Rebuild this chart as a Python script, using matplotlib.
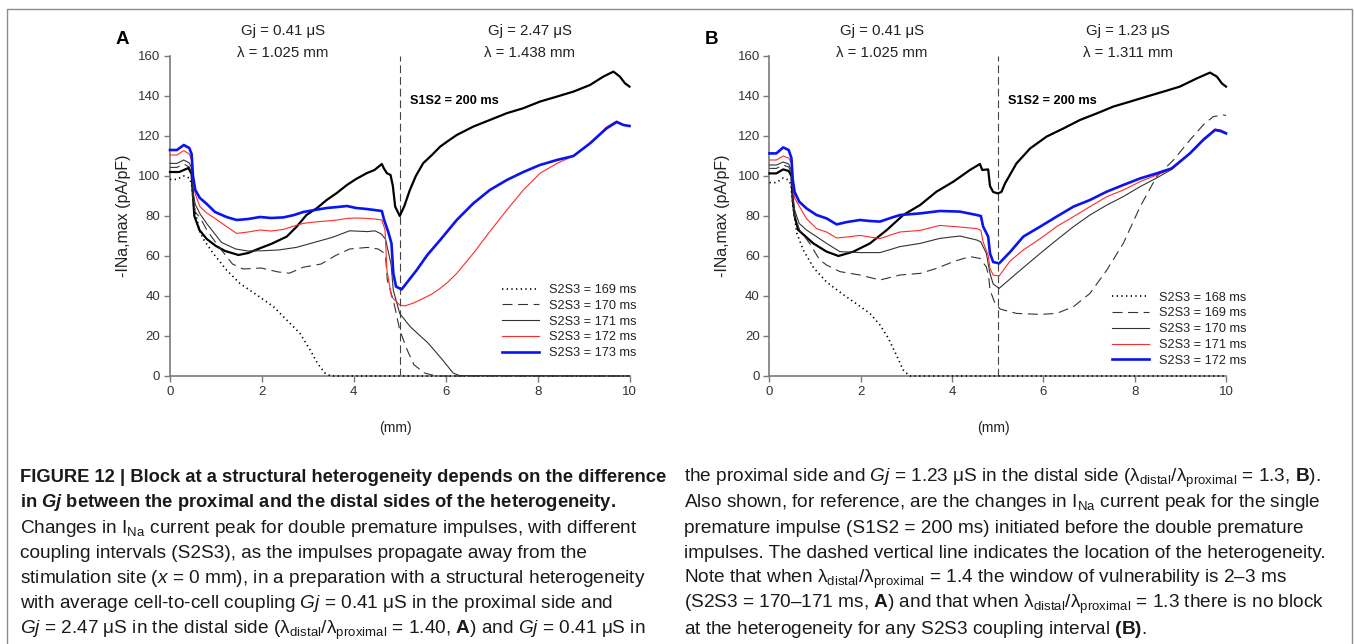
import matplotlib
matplotlib.use("Agg")
import matplotlib.pyplot as plt
from matplotlib import font_manager
from matplotlib.patches import Rectangle

W, H = 1354, 644

# narrow font for the caption, if there is one
try:
    font_manager.findfont("Liberation Sans Narrow", fallback_to_default=False)
    cap_font = "Liberation Sans Narrow"
except Exception:
    cap_font = "Liberation Sans"

plt.rcParams["font.family"] = ["Liberation Sans", "DejaVu Sans"]
plt.rcParams["mathtext.fontset"] = "custom"
plt.rcParams["mathtext.rm"] = cap_font
plt.rcParams["mathtext.it"] = cap_font + ":italic"
plt.rcParams["mathtext.bf"] = cap_font + ":bold"
plt.rcParams["mathtext.bfit"] = cap_font + ":italic:bold"

# ---------------- data, panel A ----------------
a_s1s2_x = [0, 0.2, 0.3, 0.4, 0.47, 0.5, 0.53, 0.64, 0.8, 1.0, 1.2, 1.49, 1.7, 1.96, 2.2, 2.54, 2.75,
            2.97, 3.2, 3.41, 3.63, 3.85, 4.05, 4.28, 4.45, 4.61, 4.65, 4.72, 4.8, 4.85, 4.9, 5.0, 5.1,
            5.22, 5.35, 5.51, 5.7, 5.88, 6.05, 6.24, 6.6, 6.96, 7.33, 7.69, 8.05, 8.42, 8.78, 9.14,
            9.43, 9.65, 9.79, 9.9, 10.0]
a_s1s2_y = [102, 102, 103, 104, 101, 90, 80, 73, 68.5, 65, 62.5, 60.5, 61.5, 63.9, 66, 69.7, 74.5,
            80.5, 84, 88, 91.5, 95.5, 98.5, 101.4, 103, 106, 104, 101.4, 100.5, 95, 84.7, 80, 85,
            93, 100, 106.4, 110.5, 114.7, 117.5, 120.5, 124.7, 128, 131.4, 133.9, 137.2, 139.7, 142.2,
            145.5, 149.7, 152.2, 149.7, 146.4, 144.7]

a_169_x = [0, 0.15, 0.3, 0.42, 0.47, 0.51, 0.58, 0.65, 0.74, 0.94, 1.23, 1.52, 1.89, 2.25, 2.54,
           2.83, 3.05, 3.22, 3.37, 3.5, 10]
a_169_y = [98.3, 98.3, 100, 99, 96, 86.3, 79, 72, 68, 61.3, 53, 46.3, 40.5, 34.7, 28,
           21.3, 13, 6, 1.5, 0, 0]

a_170_x = [0, 0.15, 0.3, 0.42, 0.47, 0.5, 0.55, 0.66, 0.81, 1.05, 1.36, 1.59, 1.98, 2.36, 2.6, 2.9,
           3.29, 3.6, 3.91, 4.3, 4.53, 4.66, 4.69, 4.73, 4.86, 5.0, 5.16, 5.31, 5.54, 5.78, 10]
a_170_y = [104.3, 104.3, 106, 104.5, 102, 88, 82, 79, 72.6, 65, 56, 53.5, 54, 52, 51.4, 54.4,
           56, 60.2, 63.5, 64.3, 63.5, 61.5, 60.2, 47.8, 37.9, 23, 13.1, 5.6, 1.5, 0, 0]

a_171_x = [0, 0.15, 0.3, 0.42, 0.47, 0.5, 0.55, 0.66, 0.81, 1.12, 1.43, 1.7, 1.98, 2.36, 2.75, 3.14,
           3.53, 3.91, 4.3, 4.46, 4.6, 4.69, 4.81, 4.86, 5.0, 5.23, 5.62, 5.93, 6.16, 6.3, 10]
a_171_y = [106.3, 106.3, 108, 106.5, 104, 92, 85.8, 80.8, 75.9, 66.8, 63.5, 62.5, 62.6, 63, 64.3, 66.8,
           69.3, 72.6, 72.2, 72.6, 71, 68.4, 56, 42.8, 31.2, 24.6, 16.4, 8.1, 1.5, 0.2, 0]

a_172_x = [0, 0.15, 0.3, 0.42, 0.47, 0.5, 0.55, 0.65, 0.8, 0.98, 1.23, 1.45, 1.7, 1.96, 2.2, 2.47,
           2.7, 2.9, 3.15, 3.41, 3.65, 3.85, 4.05, 4.28, 4.45, 4.61, 4.68, 4.72, 4.82, 5.0, 5.11,
           5.3, 5.51, 5.7, 5.88, 6.05, 6.24, 6.6, 6.96, 7.33, 7.69, 8.05, 8.42, 8.78, 9.14, 9.5,
           9.72, 9.87, 10.0]
a_172_y = [110.5, 110.5, 112.7, 111, 108, 98, 91, 84.7, 81.5, 78.8, 74.7, 71.3, 72, 73, 72.5, 73.3,
           75, 76.3, 77, 77.5, 78, 78.8, 79, 78.8, 78.5, 78, 73, 53, 39.7, 35.5, 35,
           36.5, 38.8, 41, 43.8, 47, 51.3, 61.3, 72.2, 83, 93, 101.3, 106.3, 110, 116.5, 124.5,
           127.5, 125.5, 125]

a_173_x = [0, 0.15, 0.3, 0.42, 0.47, 0.5, 0.55, 0.65, 0.8, 0.98, 1.23, 1.45, 1.7, 1.96, 2.2, 2.47,
           2.7, 2.9, 3.15, 3.41, 3.65, 3.85, 4.05, 4.28, 4.45, 4.61, 4.66, 4.75, 4.82, 4.86, 4.92,
           5.04, 5.2, 5.37, 5.6, 5.88, 6.24, 6.6, 6.96, 7.33, 7.69, 8.05, 8.42, 8.78, 9.14, 9.5,
           9.72, 9.87, 10.0]
a_173_y = [113, 113, 115.5, 114, 111, 100, 93, 89, 86, 82, 79.5, 78, 78.5, 79.5, 79, 79.3,
           80.5, 82, 83, 84, 84.5, 85, 84, 83.5, 83, 82.5, 78, 72, 66.3, 51.3, 44.7,
           43.3, 48, 53, 60.5, 68, 78, 86.3, 93, 98, 102, 105.5, 108, 110, 116.3, 123.8,
           127, 125.5, 125]

# ---------------- data, panel B ----------------
b_s1s2_x = [0, 0.15, 0.3, 0.42, 0.48, 0.51, 0.55, 0.63, 0.96, 1.25, 1.51, 1.84, 2.2, 2.57, 2.93,
            3.3, 3.66, 4.03, 4.39, 4.61, 4.66, 4.79, 4.83, 4.9, 5.0, 5.08, 5.16, 5.41, 5.71, 6.07,
            6.44, 6.8, 7.17, 7.53, 7.9, 8.26, 8.63, 8.99, 9.36, 9.65, 9.8, 9.91, 10.0]
b_s1s2_y = [101.3, 101.3, 103.3, 102.5, 100, 88, 80, 73, 66.3, 62.2, 60, 62.2, 66.3, 73, 80.5,
            85.5, 92.2, 97.2, 103, 106, 103, 103.3, 95, 92, 91.3, 92, 96.3, 106.3, 113.8, 119.7,
            123.8, 128, 131.3, 134.7, 137.2, 139.7, 142.2, 144.7, 148.8, 151.7, 149.7, 146.3, 144.7]

b_168_x = [0, 0.15, 0.3, 0.42, 0.47, 0.51, 0.6, 0.74, 0.97, 1.25, 1.58, 1.91, 2.2, 2.42, 2.6,
           2.79, 2.93, 3.07, 10]
b_168_y = [96.7, 96.7, 99, 98, 95.5, 85, 71.3, 63, 54, 47, 41.3, 36, 31.3, 25.5, 19,
           10, 3, 0, 0]

b_169_x = [0, 0.15, 0.3, 0.42, 0.48, 0.51, 0.55, 0.66, 0.88, 1.1, 1.25, 1.54, 1.98, 2.42, 2.86,
           3.3, 3.66, 4.03, 4.39, 4.61, 4.75, 4.8, 4.83, 4.94, 5.05, 5.41, 5.93, 6.29, 6.66, 7.02,
           7.39, 7.75, 8.12, 8.48, 8.85, 9.21, 9.5, 9.72, 9.94, 10.0]
b_169_y = [103.8, 103.8, 105.5, 104.5, 101.5, 88, 80, 73, 66.3, 58, 55.5, 52.2, 50.5, 48, 50.5,
           51.3, 53.8, 57.2, 59.7, 58.8, 54.5, 50, 43, 36.3, 33.5, 31.3, 30.8, 31.3, 34.7, 41.3,
           53, 66.3, 84.7, 99.7, 108, 118, 125.5, 129.7, 130.5, 130.3]

b_170_x = [0, 0.15, 0.3, 0.42, 0.48, 0.51, 0.55, 0.65, 0.81, 1.03, 1.25, 1.54, 1.98, 2.42, 2.86,
           3.3, 3.73, 4.17, 4.54, 4.63, 4.75, 4.83, 4.9, 5.03, 5.41, 5.93, 6.29, 6.66, 7.02, 7.39,
           7.75, 8.12, 8.48, 8.81, 9.21, 9.5, 9.76, 9.88, 10.0]
b_170_y = [105.5, 105.5, 107, 106, 103, 90, 83, 76.3, 73, 69.7, 66.3, 62.2, 61.7, 61.7, 64.7,
           66.3, 68.8, 70, 68, 67, 61.3, 51.3, 46, 43.8, 51.3, 61.3, 68, 74.7, 80.5, 85.5,
           89.7, 94.7, 99, 103.3, 111.2, 118.2, 123.2, 122.8, 121.6]

b_171_x = [0, 0.15, 0.3, 0.42, 0.48, 0.51, 0.55, 0.65, 0.81, 1.03, 1.25, 1.47, 1.7, 1.98, 2.2,
           2.42, 2.65, 2.86, 3.3, 3.73, 4.17, 4.54, 4.63, 4.68, 4.79, 4.83, 4.9, 5.03, 5.27, 5.56,
           5.93, 6.29, 6.66, 7.02, 7.39, 7.75, 8.12, 8.48, 8.81, 9.21, 9.5, 9.76, 9.88, 10.0]
b_171_y = [108, 108, 110, 109, 106.5, 96, 89, 85, 78.7, 73.7, 72, 69, 69.5, 70.3, 69.5,
           68.7, 70.5, 72, 72.8, 75.3, 74.5, 73.7, 72.8, 67, 60.3, 53.7, 50.5, 50, 57.5, 63,
           68.7, 74.7, 79.7, 84.7, 89.7, 93, 97.2, 100.5, 103.3, 111.5, 118.5, 123.5, 123, 121.8]

b_172_x = [0, 0.15, 0.3, 0.42, 0.48, 0.51, 0.55, 0.65, 0.81, 1.03, 1.25, 1.47, 1.7, 1.98, 2.2,
           2.42, 2.65, 2.86, 3.3, 3.73, 4.17, 4.54, 4.63, 4.68, 4.79, 4.83, 4.9, 5.03, 5.27, 5.56,
           5.93, 6.29, 6.66, 7.02, 7.39, 7.75, 8.12, 8.48, 8.81, 9.21, 9.5, 9.76, 9.88, 10.0]
b_172_y = [111.3, 111.3, 114.3, 113, 109, 98, 92, 87.2, 83.8, 80.5, 78.8, 75.8, 77, 78, 77.5,
           77.2, 79, 80.5, 81.3, 82.5, 82.2, 80.5, 80, 74.7, 69.7, 61.3, 57, 56.3, 62, 69.7,
           74.7, 79.7, 84.7, 88, 92.2, 95.5, 98.8, 101.3, 103.8, 111.3, 118, 123, 122.5, 121.3]

het_x = 5.0
a_labels = ["S2S3 = 169 ms", "S2S3 = 170 ms", "S2S3 = 171 ms", "S2S3 = 172 ms", "S2S3 = 173 ms"]
b_labels = ["S2S3 = 168 ms", "S2S3 = 169 ms", "S2S3 = 170 ms", "S2S3 = 171 ms", "S2S3 = 172 ms"]

# line styles, same order in both panels (dotted, dashed, thin, red, blue)
styles = [
    dict(color="black", lw=1.2, linestyle=(0, (0.8, 2.0))),
    dict(color="#333333", lw=0.8, linestyle=(0, (9, 5))),
    dict(color="#333333", lw=0.8),
    dict(color="#ff2a2a", lw=0.8),
    dict(color="#0a14f0", lw=1.9),
]

fig = plt.figure(figsize=(W / 100, H / 100), dpi=100)
fig.patch.set_facecolor("white")

# frame around the figure
fig.patches.append(Rectangle((7 / W, -0.05), (1352 - 7) / W, (H - 9) / H + 0.05,
                             transform=fig.transFigure, fill=False, ec="#8c8c8c", lw=1.0))


def ftext(x, y, s, **kw):
    return fig.text(x / W, 1 - y / H, s, **kw)


def setup(ax, width):
    ax.set_xlim(0, 10)
    ax.set_ylim(0, 160)
    for side in ("top", "right"):
        ax.spines[side].set_visible(False)
    for side in ("left", "bottom"):
        ax.spines[side].set_color("#7a7a7a")
        ax.spines[side].set_linewidth(1.2)
    ax.set_xticks(range(0, 11, 2))
    ax.set_yticks(range(0, 161, 20))
    ax.tick_params(direction="out", length=4, width=1, color="#7a7a7a",
                   labelsize=9.5, labelcolor="#333333", pad=3)
    ax.set_ylabel("-INa,max (pA/pF)", fontsize=11.5, color="#222222")
    ax.yaxis.set_label_coords(-39 / width, 0.5)
    ax.set_xlabel("(mm)", fontsize=10, color="#222222")
    ax.xaxis.set_label_coords(0.49, -0.14)
    ax.axvline(het_x, color="#444444", lw=0.8, dashes=(7, 3.5), zorder=1)


axA = fig.add_axes([170 / W, 1 - 376 / H, 459.5 / W, 320 / H])
axB = fig.add_axes([769.5 / W, 1 - 376 / H, 456.5 / W, 320 / H])
setup(axA, 459.5)
setup(axB, 456.5)

a_curves = [(a_169_x, a_169_y), (a_170_x, a_170_y), (a_171_x, a_171_y),
            (a_172_x, a_172_y), (a_173_x, a_173_y)]
b_curves = [(b_168_x, b_168_y), (b_169_x, b_169_y), (b_170_x, b_170_y),
            (b_171_x, b_171_y), (b_172_x, b_172_y)]

for ax, curves, labels, s1x, s1y, lx, ly in [
        (axA, a_curves, a_labels, a_s1s2_x, a_s1s2_y, 0.7225, 0.2875),
        (axB, b_curves, b_labels, b_s1s2_x, b_s1s2_y, 0.7496, 0.264)]:
    ax.plot(s1x, s1y, color="black", lw=1.6, clip_on=False, zorder=3)
    handles = []
    for (cx, cy), st, lab in zip(curves, styles, labels):
        h, = ax.plot(cx, cy, label=lab, clip_on=False, zorder=3, **st)
        handles.append(h)
    ax.legend(handles=handles, loc="upper left", bbox_to_anchor=(lx, ly), frameon=False,
              fontsize=9.2, handlelength=2.9, handletextpad=0.8, labelspacing=0.3,
              borderpad=0, borderaxespad=0, labelcolor="#222222")

# panel headers
for x, s in [(122, "A"), (712, "B")]:
    ftext(x, 40, s, fontsize=13.5, fontweight="bold", ha="center", va="center")
for xc, gj, lam in [(283, "0.41", "1.025"), (530, "2.47", "1.438"),
                    (882, "0.41", "1.025"), (1128, "1.23", "1.311")]:
    ftext(xc, 31, "Gj = " + gj + " μS", fontsize=10.8, ha="center", va="center", color="#222222")
    ftext(xc, 53, "λ = " + lam + " mm", fontsize=10.8, ha="center", va="center", color="#222222")
for x in (410, 1008):
    ftext(x, 101, "S1S2 = 200 ms", fontsize=9.2, fontweight="bold", ha="left", va="center")

# caption
left_lines = [
    ("FIGURE 12 | Block at a structural heterogeneity depends on the difference", "bold"),
    (r"in $\mathbfit{Gj}$ between the proximal and the distal sides of the heterogeneity.", "bold"),
    (r"Changes in I$_{\mathrm{Na}}$ current peak for double premature impulses, with different", "normal"),
    ("coupling intervals (S2S3), as the impulses propagate away from the", "normal"),
    (r"stimulation site ($\mathit{x}$ = 0 mm), in a preparation with a structural heterogeneity", "normal"),
    (r"with average cell-to-cell coupling $\mathit{Gj}$ = 0.41 μS in the proximal side and", "normal"),
    (r"$\mathit{Gj}$ = 2.47 μS in the distal side (λ$_{\mathrm{distal}}$/λ$_{\mathrm{proximal}}$ = 1.40, "
     r"$\mathbf{A}$) and $\mathit{Gj}$ = 0.41 μS in", "normal"),
]
right_lines = [
    r"the proximal side and $\mathit{Gj}$ = 1.23 μS in the distal side (λ$_{\mathrm{distal}}$/λ$_{\mathrm{proximal}}$ = 1.3, $\mathbf{B}$).",
    r"Also shown, for reference, are the changes in I$_{\mathrm{Na}}$ current peak for the single",
    "premature impulse (S1S2 = 200 ms) initiated before the double premature",
    "impulses. The dashed vertical line indicates the location of the heterogeneity.",
    r"Note that when λ$_{\mathrm{distal}}$/λ$_{\mathrm{proximal}}$ = 1.4 the window of vulnerability is 2–3 ms",
    r"(S2S3 = 170–171 ms, $\mathbf{A}$) and that when λ$_{\mathrm{distal}}$/λ$_{\mathrm{proximal}}$ = 1.3 there is no block",
    r"at the heterogeneity for any S2S3 coupling interval $\mathbf{(B)}$.",
]
line_gap = 25.3
for i, (s, wt) in enumerate(left_lines):
    ftext(20, 482 + i * line_gap, s, fontsize=13.2 if wt == "bold" else 13.7, fontweight=wt,
          family=cap_font, ha="left", va="baseline", color="#1a1a1a")
for i, s in enumerate(right_lines):
    ftext(684, 482 + i * line_gap, s, fontsize=13.7, family=cap_font,
          ha="left", va="baseline", color="#1a1a1a")

fig.savefig("out.png", dpi=100)
